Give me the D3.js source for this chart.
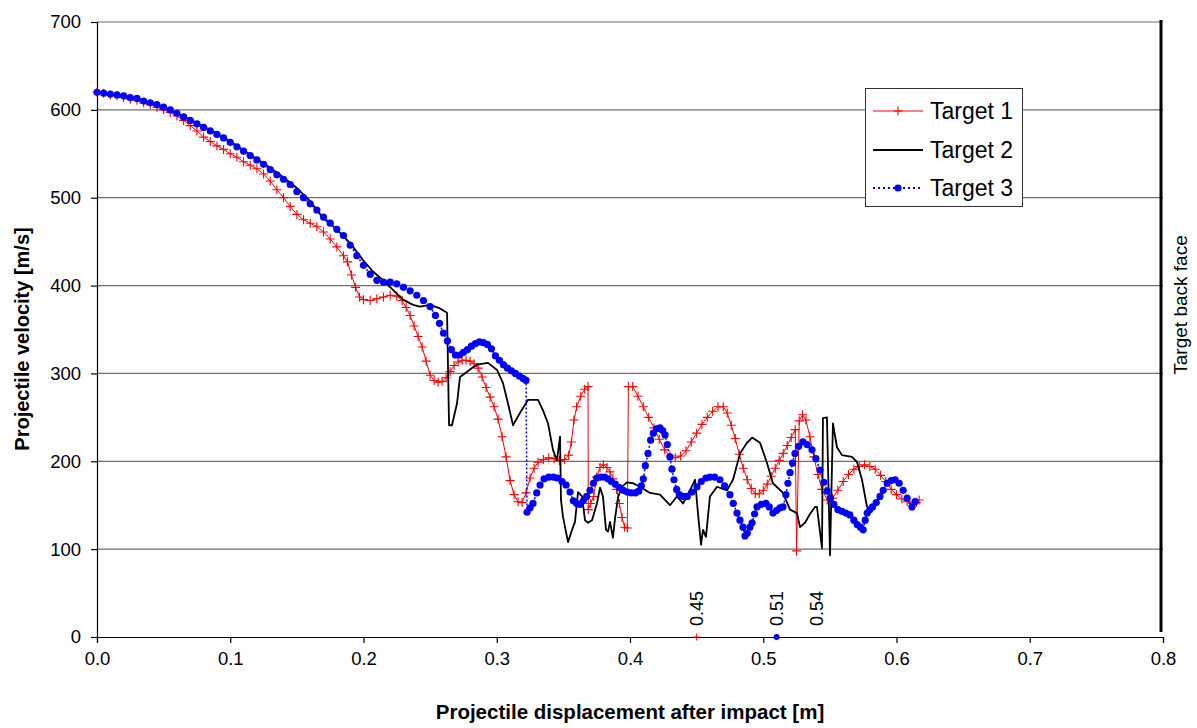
<!DOCTYPE html>
<html><head><meta charset="utf-8">
<script src="https://cdn.jsdelivr.net/npm/d3@7/dist/d3.min.js"></script>
<style>body{margin:0;background:#fff} svg{display:block}</style>
</head><body>
<svg id="chart" width="1197" height="728"></svg>
<script>
// ---------- data ----------
const xTicks = [0, 0.1, 0.2, 0.3, 0.4, 0.5, 0.6, 0.7, 0.8];
const yTicks = [0, 100, 200, 300, 400, 500, 600, 700];
const seriesNames = ["Target 1", "Target 2", "Target 3"];
const xTitle = "Projectile displacement after impact [m]";
const yTitle = "Projectile velocity [m/s]";
const backFaceLabel = "Target back face";
const backFaceX = 0.8;

// [displacement m, velocity m/s]
const target1 = [[0.000,620],[0.005,619],[0.010,617],[0.015,616],[0.020,614],[0.025,612],[0.030,611],[0.035,608],[0.040,606],[0.045,603],[0.050,600],[0.055,597],[0.060,593],[0.065,588],[0.070,582],[0.075,576],[0.080,569],[0.085,564],[0.090,559],[0.095,555],[0.100,550],[0.105,546],[0.110,541],[0.115,537],[0.120,533],[0.125,527],[0.130,519],[0.135,509],[0.140,500],[0.145,490],[0.150,481],[0.155,475],[0.160,471],[0.165,467],[0.170,461],[0.175,453],[0.180,444],[0.185,434],[0.188,427],[0.191,412],[0.194,398],[0.197,387],[0.200,384],[0.205,383],[0.210,385],[0.215,387],[0.220,389],[0.225,388],[0.229,383],[0.232,375],[0.235,366],[0.238,354],[0.241,342],[0.244,330],[0.247,314],[0.250,298],[0.253,292],[0.256,290],[0.259,291],[0.262,295],[0.265,302],[0.268,309],[0.271,313],[0.274,315],[0.277,315],[0.280,314],[0.283,311],[0.286,306],[0.289,296],[0.292,284],[0.295,273],[0.298,262],[0.301,248],[0.304,228],[0.307,205],[0.310,178],[0.313,162],[0.316,154],[0.319,153],[0.322,164],[0.325,181],[0.328,192],[0.331,199],[0.335,202],[0.339,204],[0.343,203],[0.347,201],[0.351,202],[0.354,207],[0.356,222],[0.358,247],[0.360,262],[0.363,274],[0.366,282],[0.3685,285],[0.3687,145],[0.3705,152],[0.3727,160],[0.375,182],[0.3775,193],[0.380,196],[0.3827,193],[0.385,188],[0.3872,180],[0.390,168],[0.392,152],[0.394,136],[0.396,125],[0.398,124],[0.3988,285],[0.402,285],[0.406,274],[0.410,262],[0.414,250],[0.418,238],[0.422,225],[0.426,213],[0.430,206],[0.434,204],[0.438,206],[0.442,212],[0.446,222],[0.450,232],[0.454,242],[0.458,250],[0.462,257],[0.466,262],[0.470,262],[0.473,255],[0.476,241],[0.479,226],[0.482,208],[0.485,192],[0.488,179],[0.491,169],[0.494,163],[0.497,163],[0.500,167],[0.503,174],[0.506,183],[0.509,192],[0.512,201],[0.515,209],[0.518,218],[0.521,227],[0.524,236],[0.525,98],[0.527,246],[0.5295,253],[0.532,247],[0.535,228],[0.538,205],[0.541,185],[0.544,168],[0.548,156],[0.552,158],[0.556,167],[0.560,177],[0.564,185],[0.568,191],[0.572,194],[0.576,196],[0.580,194],[0.584,191],[0.588,184],[0.592,177],[0.596,168],[0.600,162],[0.604,157],[0.608,154],[0.612,152],[0.615,153],[0.617,156]];

const target2 = [[0.000,620],[0.010,618],[0.020,616],[0.030,613],[0.040,608],[0.050,603],[0.060,596],[0.070,589],[0.080,581],[0.090,573],[0.100,564],[0.110,554],[0.120,544],[0.130,534],[0.140,523],[0.150,511],[0.160,496],[0.1696,477],[0.176,469],[0.1824,460],[0.1876,452],[0.1921,444],[0.1996,429],[0.2071,416],[0.2146,406],[0.2221,395],[0.2296,384],[0.2372,378],[0.2424,376],[0.2499,378],[0.2574,374],[0.2627,369],[0.2642,241],[0.2664,241],[0.2702,266],[0.2724,296],[0.2777,302],[0.2822,307],[0.2852,310],[0.2934,312],[0.3002,304],[0.3047,289],[0.3084,266],[0.3122,241],[0.3174,255],[0.3235,270],[0.3310,270],[0.3347,258],[0.3385,243],[0.3422,213],[0.3452,201],[0.3475,228],[0.3482,156],[0.3497,137],[0.3527,114],[0.3535,108],[0.3565,122],[0.3587,131],[0.3610,165],[0.3640,160],[0.3662,133],[0.3685,130],[0.3715,133],[0.3752,152],[0.3775,170],[0.3797,160],[0.3820,122],[0.3835,120],[0.3850,131],[0.3872,113],[0.3887,134],[0.3910,159],[0.3940,171],[0.3977,176],[0.4023,175],[0.4075,171],[0.4150,164],[0.4225,162],[0.4300,150],[0.4353,160],[0.4398,152],[0.4450,167],[0.4488,179],[0.4510,141],[0.4533,105],[0.4548,122],[0.4570,114],[0.4600,160],[0.4653,171],[0.4728,167],[0.4773,179],[0.4826,209],[0.4878,221],[0.4916,227],[0.4976,221],[0.5028,198],[0.5073,175],[0.5148,164],[0.5201,145],[0.5253,141],[0.5276,125],[0.5313,130],[0.5351,140],[0.5388,148],[0.5403,148],[0.5441,101],[0.5448,249],[0.5478,250],[0.5501,93],[0.5523,243],[0.5553,216],[0.5591,207],[0.5666,205],[0.5704,199],[0.5741,179],[0.5779,148]];

const target3 = [[0.000,620],[0.005,619],[0.010,618],[0.015,617],[0.020,616],[0.025,614],[0.030,613],[0.035,610],[0.040,608],[0.045,606],[0.050,603],[0.055,600],[0.060,596],[0.065,592],[0.070,588],[0.075,584],[0.080,580],[0.085,576],[0.090,572],[0.095,568],[0.100,563],[0.105,558],[0.110,553],[0.115,548],[0.120,543],[0.125,538],[0.130,532],[0.135,526],[0.140,521],[0.145,515],[0.150,507],[0.155,500],[0.160,493],[0.165,486],[0.170,478],[0.175,471],[0.180,464],[0.185,457],[0.190,446],[0.195,434],[0.200,423],[0.205,413],[0.210,406],[0.215,404],[0.220,404],[0.225,402],[0.230,398],[0.235,394],[0.240,389],[0.245,383],[0.250,376],[0.254,366],[0.257,357],[0.260,346],[0.263,337],[0.266,327],[0.269,321],[0.272,321],[0.275,324],[0.278,327],[0.281,331],[0.284,334],[0.287,336],[0.290,335],[0.293,333],[0.296,328],[0.299,320],[0.302,315],[0.305,310],[0.308,306],[0.311,303],[0.314,300],[0.317,297],[0.320,294],[0.322,292],[0.3227,142],[0.325,147],[0.3272,152],[0.330,164],[0.3325,173],[0.3355,180],[0.339,182],[0.3425,182],[0.3455,181],[0.349,177],[0.352,173],[0.355,165],[0.3575,155],[0.360,152],[0.3625,151],[0.365,155],[0.3675,160],[0.370,167],[0.3725,175],[0.375,181],[0.378,182],[0.381,182],[0.3835,180],[0.386,177],[0.389,174],[0.392,170],[0.395,167],[0.398,165],[0.401,164],[0.404,164],[0.4065,166],[0.4085,172],[0.410,180],[0.4115,195],[0.4135,209],[0.4155,224],[0.4175,232],[0.420,237],[0.4225,238],[0.4245,235],[0.4263,230],[0.428,219],[0.430,205],[0.4315,191],[0.433,179],[0.435,168],[0.437,162],[0.440,160],[0.443,160],[0.4465,165],[0.4503,171],[0.4535,177],[0.457,181],[0.460,182],[0.4635,182],[0.4675,179],[0.471,172],[0.475,162],[0.4775,152],[0.4803,141],[0.4825,133],[0.4848,125],[0.4863,115],[0.488,118],[0.490,125],[0.4916,130],[0.4935,140],[0.4953,148],[0.4985,151],[0.502,152],[0.5045,148],[0.5073,141],[0.510,144],[0.5125,147],[0.5148,148],[0.517,162],[0.5185,175],[0.5201,187],[0.522,198],[0.5238,209],[0.5265,217],[0.5298,222],[0.533,219],[0.5366,213],[0.5395,203],[0.5426,190],[0.5455,176],[0.548,166],[0.5505,158],[0.553,151],[0.556,145],[0.559,143],[0.562,141],[0.565,139],[0.568,133],[0.5705,128],[0.573,125],[0.575,122],[0.5765,133],[0.578,141],[0.580,145],[0.582,148],[0.5848,153],[0.5876,160],[0.590,167],[0.593,175],[0.596,178],[0.599,179],[0.602,175],[0.605,167],[0.608,158],[0.6116,148],[0.614,154]];

// end-point annotations on the x axis
const endLabels = ["0.45", "0.51", "0.54"];
const endValues = [0.45, 0.51, 0.54];
const endMarkT1 = [[0.45, 0]];
const endMarkT3 = [[0.51, 0]];

// ---------- drawing ----------
const FONT = "'Liberation Sans', Arial, sans-serif";
const svg = d3.select("#chart");
const W = 1197, H = 728;
const m = {left: 97, right: 1163, top: 22, bottom: 637};
const x = d3.scaleLinear().domain([0, 0.8]).range([m.left, m.right]);
const y = d3.scaleLinear().domain([0, 700]).range([m.bottom, m.top]);

svg.append("rect").attr("width", W).attr("height", H).attr("fill", "#fff");

// gridlines
svg.append("g").selectAll("line").data(yTicks.filter(d => d > 0)).join("line")
  .attr("x1", x(0)).attr("x2", x(0.8))
  .attr("y1", d => y(d)).attr("y2", d => y(d))
  .attr("stroke", "#6e6e6e").attr("stroke-width", 1.2);

// axes
const yAxis = svg.append("g").attr("transform", `translate(${m.left},0)`)
  .call(d3.axisLeft(y).tickValues(yTicks).tickSize(6).tickPadding(10).tickFormat(d3.format("d")));
const xAxis = svg.append("g").attr("transform", `translate(0,${m.bottom})`)
  .call(d3.axisBottom(x).tickValues(xTicks).tickSize(6).tickPadding(9).tickFormat(d3.format(".1f")));
[yAxis, xAxis].forEach(a => {
  a.selectAll("path.domain").attr("stroke", "#000").attr("stroke-width", 1.2);
  a.selectAll(".tick line").attr("stroke", "#000").attr("stroke-width", 1.2);
  a.selectAll("text").attr("font-family", FONT).attr("font-size", 18.5).attr("fill", "#000");
});

// target back face line
svg.append("line").attr("x1", x(backFaceX) - 2).attr("x2", x(backFaceX) - 2)
  .attr("y1", 20).attr("y2", 632).attr("stroke", "#000").attr("stroke-width", 3);
svg.append("text").attr("transform", `translate(${x(backFaceX) + 24},305) rotate(-90)`)
  .attr("text-anchor", "middle").attr("font-family", FONT).attr("font-size", 19)
  .text(backFaceLabel);

// series
const line = d3.line().x(d => x(d[0])).y(d => y(d[1]));
const plus = "M-4.5,0H4.5M0,-4.5V4.5";

// Target 1
svg.append("path").datum(target1).attr("d", line).attr("fill", "none")
  .attr("stroke", "#ff0000").attr("stroke-width", 1);
svg.append("g").selectAll("path").data(target1).join("path")
  .attr("transform", d => `translate(${x(d[0])},${y(d[1])})`)
  .attr("d", plus).attr("stroke", "#ff0000").attr("stroke-width", 1.1).attr("fill", "none");

// Target 2
svg.append("path").datum(target2).attr("d", line).attr("fill", "none")
  .attr("stroke", "#000").attr("stroke-width", 1.8).attr("stroke-linejoin", "round");

// Target 3
svg.append("path").datum(target3).attr("d", line).attr("fill", "none")
  .attr("stroke", "#0000ff").attr("stroke-width", 1.5).attr("stroke-dasharray", "2,2");
svg.append("g").selectAll("circle").data(target3).join("circle")
  .attr("cx", d => x(d[0])).attr("cy", d => y(d[1])).attr("r", 3.6).attr("fill", "#0000ff");

// end annotations
svg.append("g").selectAll("text").data(endValues).join("text")
  .attr("transform", d => `translate(${x(d) + 6},626) rotate(-90)`)
  .attr("font-family", FONT).attr("font-size", 18).attr("fill", "#000")
  .text((d, i) => endLabels[i]);
svg.append("g").selectAll("path").data(endMarkT1).join("path")
  .attr("transform", d => `translate(${x(d[0])},${y(d[1])})`)
  .attr("d", "M-3.5,0H3.5M0,-3.5V3.5").attr("stroke", "#ff0000").attr("stroke-width", 1);
svg.append("g").selectAll("circle").data(endMarkT3).join("circle")
  .attr("cx", d => x(d[0])).attr("cy", d => y(d[1])).attr("r", 3).attr("fill", "#0000ff");

// axis titles
svg.append("text").attr("x", (m.left + m.right) / 2).attr("y", 719)
  .attr("text-anchor", "middle").attr("font-family", FONT).attr("font-weight", "bold")
  .attr("font-size", 20.5).text(xTitle);
svg.append("text").attr("transform", `translate(29,339) rotate(-90)`)
  .attr("text-anchor", "middle").attr("font-family", FONT).attr("font-weight", "bold")
  .attr("font-size", 20).text(yTitle);

// legend
const lg = svg.append("g");
lg.append("rect").attr("x", 865.5).attr("y", 88.5).attr("width", 157).attr("height", 118)
  .attr("fill", "#fff").attr("stroke", "#333").attr("stroke-width", 1);
const rows = [111, 150, 188];
seriesNames.forEach((name, i) => {
  const ry = rows[i];
  const l = lg.append("line").attr("x1", 873).attr("x2", 923).attr("y1", ry).attr("y2", ry);
  if (i === 0) {
    l.attr("stroke", "#ff0000").attr("stroke-width", 1);
    lg.append("path").attr("transform", `translate(898,${ry})`).attr("d", plus)
      .attr("stroke", "#ff0000").attr("stroke-width", 1.1);
  } else if (i === 1) {
    l.attr("stroke", "#000").attr("stroke-width", 1.8);
  } else {
    l.attr("stroke", "#0000ff").attr("stroke-width", 2).attr("stroke-dasharray", "2,3");
    lg.append("circle").attr("cx", 898).attr("cy", ry).attr("r", 3.6).attr("fill", "#0000ff");
  }
  lg.append("text").attr("x", 930).attr("y", ry + 8).attr("font-family", FONT)
    .attr("font-size", 23).text(name);
});
</script>
</body></html>
